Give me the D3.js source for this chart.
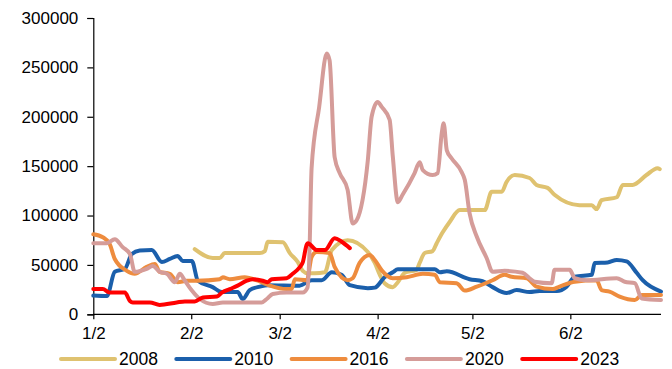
<!DOCTYPE html>
<html>
<head>
<meta charset="utf-8">
<script src="https://cdn.jsdelivr.net/npm/d3@7"></script>
<style>
  html, body { margin: 0; padding: 0; background: #fff; }
  svg { display: block; font-family: "Liberation Sans", Arial, sans-serif; }
</style>
</head>
<body>
<svg id="chart" width="672" height="369"></svg>
<script>
// Day offsets from 1/2 and values for each year
const d2008 = [[32.1,66000],[37.8,57000],[40,57000],[41.6,62000],[46.4,62000],[52.7,62000],[54.3,64000],[55.2,73500],[60,73000],[62.2,62000],[64.7,53000],[66.3,44000],[67.9,41500],[70.1,41500],[73.3,42500],[75.5,65000],[80.5,75000],[86.9,63000],[89.1,52000],[90.7,40000],[92.2,31500],[94.8,27500],[96.4,32500],[98.6,42000],[102.3,45000],[103.3,52000],[104.9,62000],[107.4,64000],[108.7,72000],[110.6,83000],[112.8,93500],[116,105500],[123.9,105500],[126.1,124000],[129.3,124000],[130.8,134000],[133.4,141000],[138.1,138000],[140.3,131000],[143.8,128000],[146,121000],[153.9,110500],[157.8,110500],[159.3,106500],[160.9,115500],[165.7,118500],[167.6,131000],[170.7,131000],[175.1,141000],[178.6,148000],[179.3,147000]];
const d2010 = [[0,19000],[4.3,18500],[6.8,43000],[10,46000],[12.2,61000],[14.7,64500],[18.5,65000],[21.7,53000],[24.2,56000],[26.7,59000],[28.3,54000],[31.2,54000],[33.1,34000],[37.8,27500],[40.7,22500],[45.7,22500],[47.3,15500],[49.5,24500],[52.7,28000],[55.2,29500],[65.3,29000],[69.1,34500],[72.3,34500],[75.5,42500],[78.6,40000],[81.2,29500],[86.9,26500],[89.1,27000],[92.2,37500],[94.8,42500],[96.4,45500],[108.1,45500],[109.7,42500],[111.9,43500],[119.1,35500],[123.2,33500],[126.4,27500],[130.8,21500],[134,24500],[138.1,22500],[141.3,23500],[146.7,23500],[149.8,28000],[152.4,38000],[157.8,40000],[158.7,52000],[162.8,52500],[165.7,55000],[168.8,53500],[172,42000],[173.9,34500],[179.7,23000]];
const d2016 = [[0,81000],[3,78000],[5.2,71000],[6.8,56000],[10.6,44000],[13.1,41000],[16.9,48000],[19.5,51000],[21,43000],[24.2,41000],[26.7,32500],[29.6,34000],[32.8,34000],[40,35500],[41,37500],[43.2,35500],[47.9,37500],[52.1,34000],[55.9,29000],[61.2,25500],[62.8,25500],[63.8,35500],[67.6,34500],[69.1,58000],[70.7,63000],[74.8,62000],[76.4,48000],[80.5,34500],[82.1,36500],[84.3,52000],[87.5,60000],[89.1,55000],[91.3,44500],[94.8,36500],[99.2,37500],[104.3,41000],[108.1,40000],[109.7,32500],[115,31500],[117.6,24000],[121.4,28000],[126.4,34500],[130.2,40000],[132.4,38000],[137.2,36500],[140.3,28000],[145.4,25500],[147.6,28000],[152.4,33000],[159.3,34500],[160.9,24500],[163.4,23000],[166.6,18000],[171.4,14500],[173.6,19500],[179.7,19500]];
const d2020 = [[0,72000],[4.3,72000],[6.8,76000],[9.3,68000],[11.6,61000],[13.1,43000],[16.9,46000],[18.8,49000],[21,43000],[23.3,41000],[25.8,32500],[27.4,41000],[29,34000],[31.2,24000],[33.7,15500],[37.8,10500],[41,12000],[53.3,12000],[54.9,15500],[56.8,20500],[61.2,22000],[66.3,22000],[67.8,27000],[68.4,60000],[69.1,148000],[71.5,210000],[73.9,264000],[74.8,257000],[76.4,159000],[78,143000],[80.5,126000],[82.1,92000],[83.4,95500],[86.9,156000],[88.1,200000],[90,215000],[91.3,210000],[93.8,197000],[94.8,160000],[96.4,113500],[97.9,121000],[101.7,143000],[103.3,154000],[104.3,146000],[107.4,141000],[109,143000],[110.3,183500],[110.9,193500],[111.9,166000],[113.4,158000],[116.6,144000],[117.6,136000],[119.1,102500],[121.4,78500],[124.5,57000],[126.4,43000],[130.2,44000],[135.9,42000],[138.1,36500],[139.7,33000],[145.1,31500],[146,45000],[150.8,45000],[152.4,36500],[156.2,34500],[165.7,36500],[168.2,33000],[171.4,31500],[173.6,16000],[179.7,14500]];
const d2023 = [[0,25500],[3,25500],[5.2,22000],[10,22000],[11.6,13500],[12.5,12000],[17.9,12000],[21,9500],[26.4,12000],[29,13000],[32.1,13000],[34.7,17000],[39.1,18000],[40.7,22000],[43.2,25500],[45.7,29000],[48.6,34000],[50.5,35500],[53.6,34000],[55.2,32500],[56.5,35500],[61.2,36500],[63.1,41000],[65.3,47500],[66.3,52500],[67.6,71000],[67.9,72000],[70.7,65000],[73.3,65000],[76.4,77000],[78.6,73500],[81.2,67000]];

const seriesNames = ["2008", "2010", "2016", "2020", "2023"];
const seriesData = [d2008, d2010, d2016, d2020, d2023];
const seriesColors = ["#DFC270", "#1B5FAB", "#EE8C3E", "#D59C99", "#FF0000"];

const tickDays = [0, 31, 59, 90, 120, 151];
const tickLabels = ["1/2", "2/2", "3/2", "4/2", "5/2", "6/2"];
const yTicks = [0, 50000, 100000, 150000, 200000, 250000, 300000];

const svg = d3.select("#chart");
const x = d3.scaleLinear().domain([0, 179.7]).range([93.3, 661]);
const y = d3.scaleLinear().domain([0, 300000]).range([314.3, 18]);

// Y axis
const yAxis = svg.append("g")
  .attr("transform", `translate(${x(0)},0)`)
  .call(d3.axisLeft(y).tickValues(yTicks).tickSize(6).tickPadding(9).tickFormat(d3.format("d")));
yAxis.select(".domain").attr("stroke", "#000").attr("stroke-width", 1.2);
yAxis.selectAll(".tick line").attr("stroke", "#000").attr("stroke-width", 1.2);
yAxis.selectAll("text").attr("font-size", "17px").attr("fill", "#000")
  .attr("font-family", "'Liberation Sans', Arial, sans-serif");

// X axis
const xAxis = svg.append("g")
  .attr("transform", `translate(0,${y(0)})`)
  .call(d3.axisBottom(x).tickValues(tickDays).tickSize(5).tickPadding(8)
    .tickFormat((d, i) => tickLabels[i]));
xAxis.select(".domain").attr("stroke", "#000").attr("stroke-width", 1.2)
  .attr("d", `M${x(0)},0H${x(179.7)}`);
xAxis.selectAll(".tick line").attr("stroke", "#000").attr("stroke-width", 1.2);
xAxis.selectAll("text").attr("font-size", "17px").attr("fill", "#000")
  .attr("font-family", "'Liberation Sans', Arial, sans-serif");

// Lines
const line = d3.line()
  .x(d => x(d[0]))
  .y(d => y(d[1]))
  .curve(d3.curveMonotoneX);

svg.append("g").selectAll("path")
  .data(seriesData)
  .join("path")
  .attr("d", line)
  .attr("fill", "none")
  .attr("stroke", (d, i) => seriesColors[i])
  .attr("stroke-width", 4)
  .attr("stroke-linejoin", "round")
  .attr("stroke-linecap", "round");

// Legend
const legend = svg.append("g").attr("transform", "translate(61,359)");
const item = legend.selectAll("g")
  .data(seriesNames)
  .join("g")
  .attr("transform", (d, i) => `translate(${i * 115.3},0)`);
item.append("line")
  .attr("x1", 0).attr("x2", 54).attr("y1", 0).attr("y2", 0)
  .attr("stroke", (d, i) => seriesColors[i])
  .attr("stroke-width", 4)
  .attr("stroke-linecap", "round");
item.append("text")
  .attr("x", 58).attr("y", 0).attr("dy", "0.35em")
  .attr("font-size", "17.5px").attr("fill", "#000")
  .text(d => d);
</script>
</body>
</html>
